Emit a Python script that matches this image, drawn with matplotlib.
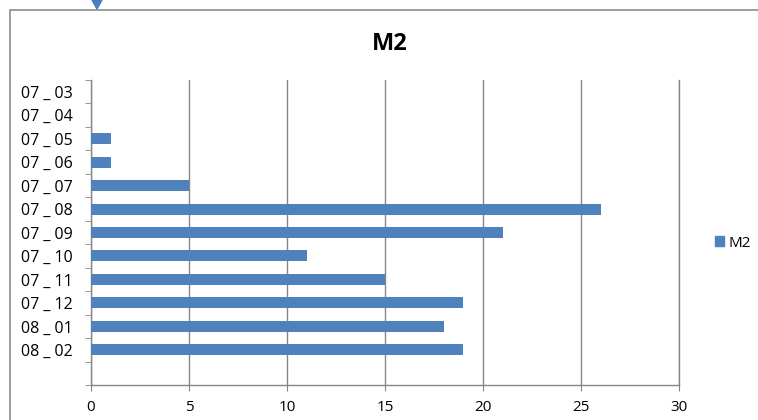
import matplotlib.pyplot as plt
from matplotlib.patches import Rectangle, Patch, Polygon
import numpy as np

# monthly counts for M2, top to bottom as listed
months = ["07 _ 03", "07 _ 04", "07 _ 05", "07 _ 06", "07 _ 07", "07 _ 08",
          "07 _ 09", "07 _ 10", "07 _ 11", "07 _ 12", "08 _ 01", "08 _ 02"]
m2_values = [0, 0, 1, 1, 5, 26, 21, 11, 15, 19, 18, 19]
x_ticks = [0, 5, 10, 15, 20, 25, 30]

BAR_BLUE = "#4F81BD"
LINE_GREY = "#868686"
FONT = "Open Sans"
W, H = 758, 420

fig = plt.figure(figsize=(W / 100, H / 100), dpi=100)
fig.patch.set_facecolor("white")

# outer chart border (runs off the right and bottom edges)
fig.patches.append(Rectangle((10 / W, -0.05), 1.1, 1 - 10 / H + 0.05,
                             transform=fig.transFigure, fill=False,
                             edgecolor="#8c8c8c", linewidth=1.2))
# small blue pointer sitting on the top border
pointer = [(92, 0), (102, 0), (97, 9)]
fig.patches.append(Polygon([(px / W, 1 - py / H) for px, py in pointer],
                           closed=True, transform=fig.transFigure,
                           facecolor="#4a7ebb", edgecolor="#4a7ebb"))

ax = fig.add_axes([91 / W, 35 / H, 588 / W, 305 / H])
y = np.arange(len(months))
ax.barh(y, m2_values, height=0.47, color=BAR_BLUE, zorder=3, label="M2")

# one empty slot below the last month
ax.set_ylim(len(months) + 0.5, -0.5)
ax.set_xlim(x_ticks[0], x_ticks[-1])

ax.set_yticks(y)
ax.set_yticklabels(months, family=FONT, fontsize=11.5)
ax.set_yticks(np.arange(len(months) + 2) - 0.5, minor=True)
ax.tick_params(axis="y", which="major", length=0, pad=13)
ax.tick_params(axis="y", which="minor", length=4.5, color=LINE_GREY, direction="out")

ax.set_xticks(x_ticks)
ax.set_xticklabels([str(t) for t in x_ticks], family=FONT, fontsize=11)
ax.tick_params(axis="x", length=4, color=LINE_GREY, pad=7)

ax.grid(axis="x", color=LINE_GREY, linewidth=1, zorder=0)
ax.spines["top"].set_visible(False)
for side in ("left", "bottom", "right"):
    ax.spines[side].set_color(LINE_GREY)
    ax.spines[side].set_linewidth(1)

fig.text(390 / W, 1 - 44 / H, "M2", family=FONT, fontweight="bold",
         fontsize=17, ha="center", va="center")

fig.legend(handles=[Patch(color=BAR_BLUE, label="M2")], loc="center left",
           bbox_to_anchor=(715 / W, 1 - 243 / H), frameon=False,
           borderpad=0, borderaxespad=0,
           handlelength=0.6, handleheight=0.6, handletextpad=0.3,
           prop={"family": FONT, "size": 11})

fig.savefig("out.png", dpi=100)
